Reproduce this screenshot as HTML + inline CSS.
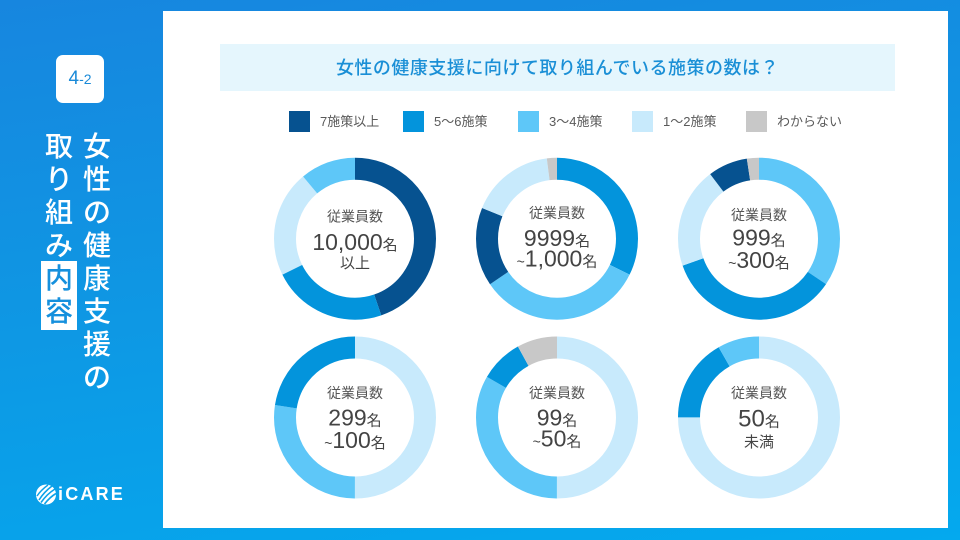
<!DOCTYPE html>
<html lang="ja">
<head>
<meta charset="utf-8">
<style>
  html,body{margin:0;padding:0;}
  body{width:960px;height:540px;overflow:hidden;position:relative;
    background:linear-gradient(172deg,#1786df 0%,#0f96e3 45%,#04a9ee 100%);
    font-family:"Liberation Sans","Noto Sans CJK JP",sans-serif;}
  .card{position:absolute;left:163px;top:11px;width:785px;height:517px;background:#fff;}
  .badge{position:absolute;left:56px;top:55px;width:48px;height:48px;background:#fff;border-radius:7px;}
  .badge span{position:absolute;top:10px;left:0;width:48px;text-align:center;color:#1a8ad8;
    font-family:"Liberation Sans","Noto Sans CJK JP",sans-serif;font-size:19px;line-height:28px;}
  .badge small{font-size:14px;}
  .col{position:absolute;width:44px;text-align:center;color:#fff;
    font-family:"Noto Sans CJK JP",sans-serif;font-weight:500;font-size:28px;line-height:33px;}
  .hl{position:absolute;left:41px;top:261px;width:36px;height:69px;background:#fff;}
  .logo{position:absolute;left:36px;top:483px;}
  .logotext{position:absolute;left:58px;top:484px;color:#fff;font-weight:bold;font-size:18px;
    font-family:"Liberation Sans",sans-serif;line-height:20px;letter-spacing:2.2px;}
  .titlebar{position:absolute;left:220px;top:44px;width:675px;height:47px;background:#e5f6fd;}
  .titlebar div{position:absolute;left:0;top:0;width:675px;height:47px;line-height:47px;text-align:center;
    color:#1a8fd6;font-family:"Noto Sans CJK JP",sans-serif;font-weight:500;font-size:18px;letter-spacing:0.5px;}
  .lg{position:absolute;top:111px;width:21px;height:21px;}
  .lt{position:absolute;top:111px;height:21px;line-height:21px;font-size:13px;color:#5a5a5a;
    font-family:"Liberation Sans","Noto Sans CJK JP",sans-serif;white-space:nowrap;}
  svg.main{position:absolute;left:0;top:0;}
  .t1{font-family:"Noto Sans CJK JP",sans-serif;font-size:14px;fill:#555;}
  .num{font-family:"Liberation Sans","Noto Sans CJK JP",sans-serif;font-size:23px;fill:#444;}
  .mei{font-family:"Noto Sans CJK JP",sans-serif;font-size:15px;fill:#444;}
  .tl{font-family:"Liberation Sans",sans-serif;font-size:14px;fill:#444;}
  .t3{font-family:"Noto Sans CJK JP",sans-serif;font-size:15px;fill:#444;}
</style>
</head>
<body>
<div class="card"></div>

<div class="badge"><span>4<small>-2</small></span></div>

<div class="hl"></div>
<div class="col" style="left:75px;top:129px;">女<br>性<br>の<br>健<br>康<br>支<br>援<br>の</div>
<div class="col" style="left:37px;top:129px;">取<br>り<br>組<br>み<br><span style="color:#1590dd">内</span><br><span style="color:#1590dd">容</span></div>

<svg class="logo" width="22" height="24" viewBox="0 0 22 24">
  <circle cx="10" cy="11.5" r="10" fill="#fff"/>
  <path d="M3 17 Q8 9 16 3" stroke="#0aa2e9" stroke-width="1.6" fill="none"/>
  <path d="M5 19.5 Q11 11 19 6" stroke="#0aa2e9" stroke-width="1.6" fill="none"/>
  <path d="M8.5 21 Q14 14 20 10.5" stroke="#0aa2e9" stroke-width="1.6" fill="none"/>
  <path d="M1 13 Q5 7 12 2" stroke="#0aa2e9" stroke-width="1.4" fill="none"/>
</svg>
<div class="logotext">iCARE</div>

<div class="titlebar"><div>女性の健康支援に向けて取り組んでいる施策の数は？</div></div>

<div class="lg" style="left:289px;background:#065290;"></div>
<div class="lt" style="left:320px;">7施策以上</div>
<div class="lg" style="left:403px;background:#0394dc;"></div>
<div class="lt" style="left:434px;">5～6施策</div>
<div class="lg" style="left:518px;background:#5ec7f8;"></div>
<div class="lt" style="left:549px;">3～4施策</div>
<div class="lg" style="left:632px;background:#c8eafc;"></div>
<div class="lt" style="left:663px;">1～2施策</div>
<div class="lg" style="left:746px;background:#c8c8c8;"></div>
<div class="lt" style="left:777px;">わからない</div>

<svg class="main" width="960" height="540" viewBox="0 0 960 540">
  <!-- Donut 1 -->
  <g transform="translate(355 238.7) rotate(-90)" fill="none" stroke-width="22">
    <circle r="70" stroke="#065290" stroke-dasharray="196.70 439.82" stroke-dashoffset="0"/>
    <circle r="70" stroke="#0394dc" stroke-dasharray="100.91 439.82" stroke-dashoffset="-196.70"/>
    <circle r="70" stroke="#c8eafc" stroke-dasharray="93.34 439.82" stroke-dashoffset="-297.61"/>
    <circle r="70" stroke="#5ec7f8" stroke-dasharray="48.87 439.82" stroke-dashoffset="-390.95"/>
  </g>
  <!-- Donut 2 -->
  <g transform="translate(557 238.7) rotate(-90)" fill="none" stroke-width="22">
    <circle r="70" stroke="#0394dc" stroke-dasharray="142.09 439.82" stroke-dashoffset="0"/>
    <circle r="70" stroke="#5ec7f8" stroke-dasharray="145.87 439.82" stroke-dashoffset="-142.09"/>
    <circle r="70" stroke="#065290" stroke-dasharray="69.03 439.82" stroke-dashoffset="-287.96"/>
    <circle r="70" stroke="#c8eafc" stroke-dasharray="73.79 439.82" stroke-dashoffset="-356.99"/>
    <circle r="70" stroke="#c8c8c8" stroke-dasharray="9.04 439.82" stroke-dashoffset="-430.78"/>
  </g>
  <!-- Donut 3 -->
  <g transform="translate(759 238.7) rotate(-90)" fill="none" stroke-width="22">
    <circle r="70" stroke="#5ec7f8" stroke-dasharray="151.62 439.82" stroke-dashoffset="0"/>
    <circle r="70" stroke="#0394dc" stroke-dasharray="154.43 439.82" stroke-dashoffset="-151.62"/>
    <circle r="70" stroke="#c8eafc" stroke-dasharray="88.33 439.82" stroke-dashoffset="-306.04"/>
    <circle r="70" stroke="#065290" stroke-dasharray="34.70 439.82" stroke-dashoffset="-394.37"/>
    <circle r="70" stroke="#c8c8c8" stroke-dasharray="10.75 439.82" stroke-dashoffset="-429.07"/>
  </g>
  <!-- Donut 4 -->
  <g transform="translate(355 417.5) rotate(-90)" fill="none" stroke-width="22">
    <circle r="70" stroke="#c8eafc" stroke-dasharray="219.91 439.82" stroke-dashoffset="0"/>
    <circle r="70" stroke="#5ec7f8" stroke-dasharray="120.71 439.82" stroke-dashoffset="-219.91"/>
    <circle r="70" stroke="#0394dc" stroke-dasharray="99.20 439.82" stroke-dashoffset="-340.62"/>
  </g>
  <!-- Donut 5 -->
  <g transform="translate(557 417.5) rotate(-90)" fill="none" stroke-width="22">
    <circle r="70" stroke="#c8eafc" stroke-dasharray="219.91 439.82" stroke-dashoffset="0"/>
    <circle r="70" stroke="#5ec7f8" stroke-dasharray="146.61 439.82" stroke-dashoffset="-219.91"/>
    <circle r="70" stroke="#0394dc" stroke-dasharray="37.87 439.82" stroke-dashoffset="-366.52"/>
    <circle r="70" stroke="#c8c8c8" stroke-dasharray="35.43 439.82" stroke-dashoffset="-404.39"/>
  </g>
  <!-- Donut 6 -->
  <g transform="translate(759 417.5) rotate(-90)" fill="none" stroke-width="22">
    <circle r="70" stroke="#c8eafc" stroke-dasharray="329.87 439.82" stroke-dashoffset="0"/>
    <circle r="70" stroke="#0394dc" stroke-dasharray="73.30 439.82" stroke-dashoffset="-329.87"/>
    <circle r="70" stroke="#5ec7f8" stroke-dasharray="36.65 439.82" stroke-dashoffset="-403.17"/>
  </g>

  <!-- Labels -->
  <g text-anchor="middle">
    <!-- 1 -->
    <text x="355" y="221.5" class="t1">従業員数</text>
    <text x="355" y="250"><tspan class="num">10,000</tspan><tspan class="mei">名</tspan></text>
    <text x="355" y="268" class="t3">以上</text>
    <!-- 2 -->
    <text x="557" y="218" class="t1">従業員数</text>
    <text x="557" y="246"><tspan class="num">9999</tspan><tspan class="mei">名</tspan></text>
    <text x="557" y="266.5"><tspan class="tl">~</tspan><tspan class="num">1,000</tspan><tspan class="mei">名</tspan></text>
    <!-- 3 -->
    <text x="759" y="220" class="t1">従業員数</text>
    <text x="759" y="245.5"><tspan class="num">999</tspan><tspan class="mei">名</tspan></text>
    <text x="759" y="268"><tspan class="tl">~</tspan><tspan class="num">300</tspan><tspan class="mei">名</tspan></text>
    <!-- 4 -->
    <text x="355" y="398" class="t1">従業員数</text>
    <text x="355" y="425.5"><tspan class="num">299</tspan><tspan class="mei">名</tspan></text>
    <text x="355" y="448"><tspan class="tl">~</tspan><tspan class="num">100</tspan><tspan class="mei">名</tspan></text>
    <!-- 5 -->
    <text x="557" y="398" class="t1">従業員数</text>
    <text x="557" y="425.5"><tspan class="num">99</tspan><tspan class="mei">名</tspan></text>
    <text x="557" y="446.5"><tspan class="tl">~</tspan><tspan class="num">50</tspan><tspan class="mei">名</tspan></text>
    <!-- 6 -->
    <text x="759" y="398" class="t1">従業員数</text>
    <text x="759" y="426.5"><tspan class="num" style="font-size:24px">50</tspan><tspan class="mei">名</tspan></text>
    <text x="759" y="447" class="t3">未満</text>
  </g>
</svg>
</body>
</html>
